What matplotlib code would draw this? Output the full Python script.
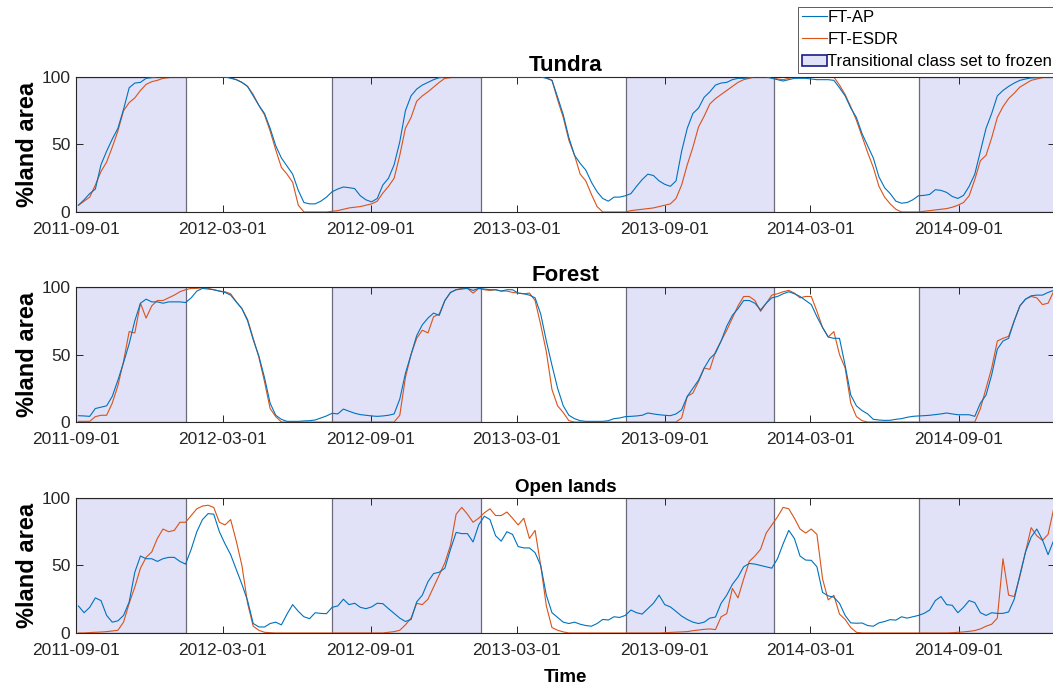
import matplotlib
matplotlib.use("Agg")
import matplotlib.pyplot as plt
import matplotlib.dates as mdates
from matplotlib.lines import Line2D
from matplotlib.patches import Patch
import pandas as pd

plt.rcParams["font.family"] = ["Liberation Sans", "DejaVu Sans"]

# weekly samples, first one on 2011-09-04
dates = pd.date_range("2011-09-04", periods=174, freq="7D")

tundra_ap = [
    5, 9, 13.6, 17, 35, 45, 54, 62, 76, 92, 95.5, 96, 99, 99.5, 100,
    100, 100, 100, 100, 100, 100, 100, 100, 100, 100, 100, 100,
    99, 98, 96, 93, 86, 79, 73, 62, 49, 40, 34, 28, 16, 7, 6, 6, 8, 11, 15, 17, 18.5, 18, 17.3,
    12, 9, 7.5, 10, 20, 25, 35, 52, 75, 86, 91, 94, 96, 98, 99.5,
    100, 100, 100, 100, 100, 100, 100, 100, 100, 100, 100, 100, 100, 100, 100, 100, 100, 100,
    99, 97.5, 85, 72, 55, 42, 36, 31, 22, 15, 10, 8, 11, 11, 12, 13.6, 19, 24, 28, 27, 23,
    20.5, 19, 23, 45, 62, 73, 77, 85, 89, 94, 95.5, 96, 98, 99, 99,
    99.5, 100, 100, 100, 99, 98, 97, 98, 99, 99, 99, 98.5, 98, 98, 98, 97.5,
    92, 86, 77, 70, 58, 49, 40, 26, 18, 13.6, 8, 6.5, 7, 9, 12, 12.3, 13, 16.5, 16, 14.5,
    11.5, 10, 12.3, 19, 28, 45, 62, 73, 86, 90, 93, 95.5, 97.5, 98.5, 99.3, 99.5, 100, 100, 100,
]
tundra_esdr = [
    5, 8, 11, 20, 30, 37, 48, 60, 75, 81, 84.5, 90, 94.5, 96.5, 97.5, 99, 99.5,
    100, 100, 100, 100, 100, 100, 100, 100, 100, 100,
    99.5, 98, 96, 93, 87, 79, 72, 60, 46, 33, 28, 22, 5, 0, 0, 0, 0, 0,
    0.5, 1, 2, 3, 3.5, 4, 5, 6, 8, 14, 19, 25, 42, 62, 70, 82, 86, 89, 92.5, 96, 99, 99.5,
    100, 100, 100, 100, 100, 100, 100, 100, 100, 100, 100, 100, 100, 100, 100, 100, 99.5,
    97.5, 83, 70, 53, 42, 28, 23, 13, 4, 0, 0, 0, 0, 0,
    1, 1.5, 2, 2.5, 3, 4, 5, 6, 10, 20, 35, 48, 63, 71, 80, 84, 87, 90, 93, 96, 98, 99,
    100, 100, 100, 100, 98.5, 98, 99, 100, 100, 100, 100, 100, 100, 100, 100,
    94, 87, 78, 68, 56, 44, 33, 19, 11, 6, 2, 0, 0, 0, 0, 0.5, 1, 1.5, 2, 2.5,
    3.5, 5, 7, 12, 24, 38, 42, 55, 70, 78, 84, 88, 92.5, 95, 97.5, 98.5, 99.5, 100, 100,
]

forest_ap = [
    4.7, 4.5, 4.2, 10, 11, 12, 19, 31, 44, 58, 75, 88, 91, 89, 89, 88, 89, 89, 89, 88.5,
    92, 97, 99, 98.5, 98, 97, 96, 94, 89, 84,
    75, 61, 49, 33, 14, 5, 2, 0.5, 0.5, 0.5, 0.8, 1, 1.5, 3, 4.5, 6.5, 6, 9.6, 8, 6.5,
    5.5, 5, 4.5, 4.2, 4.5, 5, 6, 17, 36, 50,
    64, 72, 77, 80.7, 79, 90, 96, 98, 98.5, 99, 97.5, 99, 98.5, 98, 98, 97, 98, 98, 95.5, 95,
    94, 92, 80, 60, 42, 25, 12, 5, 2.5, 1,
    0.5, 0.5, 0.5, 0.5, 1, 2.5, 3, 4, 4.2, 4.5, 5, 6.7, 6, 5.4, 5, 4.7, 6, 9, 19, 25,
    31, 40, 47, 51, 60, 71, 79, 84, 90, 90,
    88, 83, 88, 92, 93, 95, 96.5, 95, 93, 90, 87, 78, 70, 63, 62, 62, 42, 20, 12, 8.5,
    6, 2, 1.5, 1.2, 1.3, 2, 2.5, 3.5, 4.2, 4.5,
    4.7, 5, 5.5, 6, 6.7, 6, 5.4, 5.4, 5.4, 4.2, 14, 20, 35, 54, 60, 62, 75, 86, 91, 93.5,
    94, 94, 96, 97.5,
]
forest_esdr = [
    0.5, 0.5, 0.5, 4, 5, 5, 14, 27, 45, 67, 66, 88, 77, 86, 90, 90, 92, 94, 96.5, 98,
    99, 99, 99.5, 99, 98, 97, 96.5, 95, 89, 84,
    76, 62, 48, 30, 10, 4, 0, 0, 0, 0, 0, 0, 0, 0, 0, 0, 0, 0, 0, 0,
    0, 0, 0, 0, 0, 0, 0, 5, 33, 50,
    62, 68, 66, 78, 80, 90, 96, 98, 99, 99, 95.5, 99, 98, 97.5, 98, 97, 97, 96, 95.5, 95,
    95.5, 90, 72, 52, 24, 12, 7, 1, 0, 0,
    0, 0, 0, 0, 0, 0, 0, 0, 0, 0, 0, 0, 0, 0, 0, 0, 0, 3, 19, 21.5,
    30, 40, 39, 52, 60, 68, 77, 86, 93, 93,
    90, 82, 88, 94, 95, 96.5, 97.5, 95.5, 92, 93, 93, 82, 70, 63, 67, 50, 40, 14, 4, 1,
    0, 0, 0, 0, 0, 0, 0, 0, 0, 0,
    0, 0, 0, 0, 0, 0, 0, 0, 0, 0, 10, 25, 40, 60, 62, 63.5, 75, 86, 91, 93,
    92, 87, 88, 96.8,
]

open_ap = [
    20, 15, 19, 26, 24, 13, 8, 9, 13, 23, 45, 57, 55, 55, 53, 55, 56, 56, 53, 51,
    62, 75, 84, 88.4, 88, 75, 66, 58, 47, 36,
    24, 7, 4.5, 4.4, 7, 8, 6, 14, 21, 16, 12, 10.6, 15, 14.5, 14.3, 19, 20, 25, 21, 22,
    19, 18, 19.3, 22, 21.7, 18, 14.5, 11, 8.5, 10,
    23, 28, 38, 44, 45, 48, 62, 74.5, 73.6, 73.6, 67.4, 80, 86.5, 84, 72, 68, 75, 73, 64, 63,
    63, 59.5, 50, 28, 15, 11.5, 8, 7, 8, 6.5,
    5.5, 5, 7, 10, 9.6, 12, 11.5, 13, 17, 15, 14, 18, 22, 28, 21, 19.3, 16, 12.5, 10, 8,
    7, 8, 11, 11.8, 22, 28, 36, 41.5, 49, 51.5,
    51, 50, 49, 48, 55, 66, 76, 70, 57, 54, 53.8, 49, 30, 27.5, 26.5, 22, 13, 7.5, 7.2, 7.4,
    5.5, 5, 7.5, 8.5, 9.9, 9.5, 12, 11, 12, 13,
    14.5, 17, 24, 27, 21, 20.5, 15, 19, 24, 22.5, 15, 13, 15, 14.5, 14.5, 15.6, 25, 43, 60, 71,
    77, 69, 58, 68.6,
]
open_esdr = [
    0, 0, 0.3, 0.5, 0.7, 1, 1.5, 2, 8, 22, 34, 48, 56, 60, 70, 77, 75, 76, 82, 82,
    87, 92, 94, 94.6, 93, 82, 80, 84, 68, 50,
    22, 5, 2, 0.5, 0.2, 0, 0, 0, 0, 0, 0, 0, 0, 0, 0, 0, 0, 0, 0, 0,
    0, 0, 0, 0, 0, 0.5, 1, 2, 6, 11,
    22, 21, 25, 34, 43, 52, 65, 88, 93, 88, 82, 85, 89, 92, 87, 87, 89.6, 85, 80, 85,
    70, 76, 50, 20, 4, 2, 0.8, 0, 0, 0,
    0, 0, 0, 0, 0, 0, 0, 0, 0, 0, 0, 0, 0, 0, 0.2, 0.4, 0.6, 0.8, 1, 1.7,
    2.2, 2.7, 3, 2.5, 12, 14.3, 33, 26, 40, 53,
    57, 62, 74, 80, 86, 93, 92, 85, 77, 74, 77, 73, 40, 24.5, 27.9, 14, 10, 4, 0.5, 0,
    0, 0, 0, 0, 0, 0, 0, 0, 0, 0,
    0, 0, 0, 0, 0, 0.2, 0.5, 0.8, 1.2, 1.8, 3, 5, 6.5, 11, 55, 28, 27, 42, 60, 78,
    72, 68.6, 73, 92,
]

# periods where the transitional class is set to frozen
frozen_start = ["2011-07-15", "2012-07-15", "2013-07-15", "2014-07-14"]
frozen_end = ["2012-01-16", "2013-01-16", "2014-01-15", "2015-01-15"]

tick_dates = ["2011-09-01", "2012-03-01", "2012-09-01", "2013-03-01",
              "2013-09-01", "2014-03-01", "2014-09-01"]

panels = [
    ("Tundra", tundra_ap, tundra_esdr, 0.691, 16),
    ("Forest", forest_ap, forest_esdr, 0.3848, 16),
    ("Open lands", open_ap, open_esdr, 0.0773, 13.5),
]

blue = "#0072BD"
orange = "#D95319"
shade = "#E1E1F8"
axcol = "#262626"

fig = plt.figure(figsize=(10.53, 6.86), dpi=100)

for i, (name, ap, esdr, bottom, tsize) in enumerate(panels):
    ax = fig.add_axes([0.0722, bottom, 0.93, 0.1968])
    for s, e in zip(frozen_start, frozen_end):
        ax.axvspan(pd.Timestamp(s), pd.Timestamp(e), facecolor=shade,
                   edgecolor="#6a6a7a", linewidth=0.9, zorder=0)
    ax.plot(dates, ap, color=blue, linewidth=0.8, zorder=3)
    ax.plot(dates, esdr, color=orange, linewidth=0.8, zorder=2)

    ax.set_xlim(pd.Timestamp("2011-09-01"), pd.Timestamp("2014-12-30"))
    ax.set_ylim(0, 100)
    ax.set_yticks([0, 50, 100])
    ax.set_xticks(pd.to_datetime(tick_dates))
    ax.xaxis.set_major_formatter(mdates.DateFormatter("%Y-%m-%d"))
    ax.tick_params(direction="in", top=True, right=True, length=5, width=0.7,
                   labelsize=12.5, colors=axcol, pad=4)
    ax.tick_params(axis="x", pad=7)
    for sp in ax.spines.values():
        sp.set_color(axcol)
        sp.set_linewidth(0.8)
    ax.set_ylabel("%land area", fontsize=17, fontweight="bold", labelpad=2)
    ax.set_title(name, fontsize=tsize, fontweight="bold", pad=4)
    if i == 2:
        ax.set_xlabel("Time", fontsize=13.5, fontweight="bold", labelpad=8)

handles = [
    Line2D([], [], color=blue, linewidth=0.8),
    Line2D([], [], color=orange, linewidth=0.8),
    Patch(facecolor=shade, edgecolor="#1a1a8a", linewidth=1.2),
]
labels = ["FT-AP", "FT-ESDR", "Transitional class set to frozen"]
leg = fig.legend(handles, labels, loc="upper left", bbox_to_anchor=(0.758, 0.99),
                 fontsize=12, frameon=True, fancybox=False, edgecolor="#333333",
                 borderpad=0.2, handlelength=1.5, handletextpad=0.05,
                 labelspacing=0.42, borderaxespad=0)
leg.get_frame().set_linewidth(0.7)

plt.savefig("out.png", dpi=100)
